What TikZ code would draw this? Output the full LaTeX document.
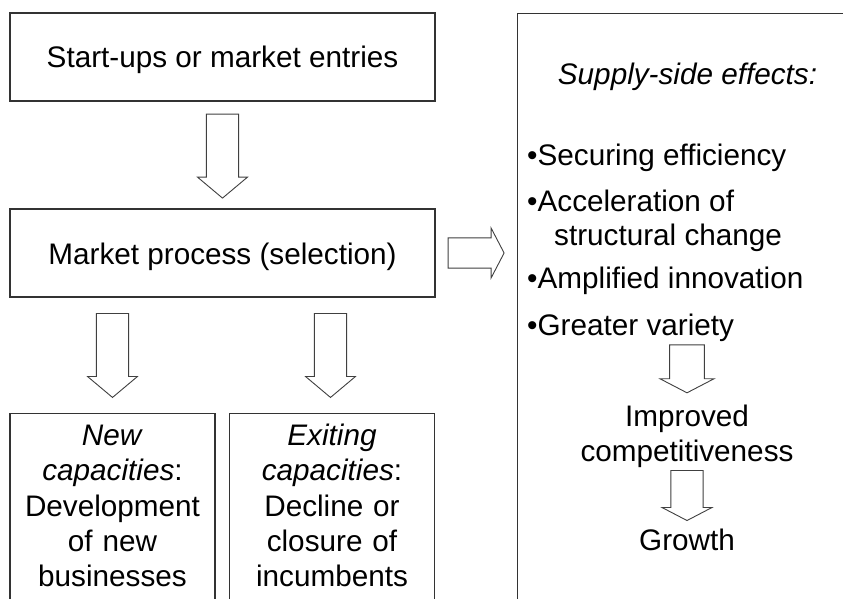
\documentclass[tikz,border=0pt]{standalone}
\usepackage{fontspec}
\setmainfont{Liberation Sans}
\usetikzlibrary{shapes.arrows,calc}
\begin{document}
\begin{tikzpicture}[x=1pt,y=-1pt,font=\fontsize{29.7}{35.3}\selectfont]
  \tikzset{box/.style={draw=black!80, line width=1.3pt, inner sep=0pt, align=center},
    flowbox/.style={box, minimum width=425pt, text height=55pt, text depth=33pt},
    capbox/.style={box, text width=205pt, text height=32pt, text depth=230pt, anchor=north},
    txt/.style={inner sep=0pt},
    fatarrow/.style={single arrow, draw=black!75, fill=white, line width=0.9pt, inner xsep=0pt, single arrow head indent=0pt, anchor=tail}}
  \useasboundingbox (0,0) rectangle (843,599);
  \clip (0,0) rectangle (843,599);
  \node[flowbox] (entries) at (222.5,57) {Start-ups or market entries};
  \node[flowbox] (market) at (222.5,253) {Market process (selection)};
  \node[capbox] (newcap) at (112.5,413) {\textit{New}\\\textit{capacities}:\\Development\\of new\\businesses};
  \node[capbox] (exitcap) at (332,413) {\textit{Exiting}\\\textit{capacities}:\\Decline or\\closure of\\incumbents};
  \node[box, minimum width=360pt, minimum height=640pt, anchor=north west] (effects) at (517,13) {};
  \node[txt, anchor=base] (efftitle) at (687.5,85) {\textit{Supply-side effects:}};
  \node[txt, anchor=base west] (efficiency) at (527,165) {•Securing efficiency};
  \node[txt, anchor=base west, align=left] (structural) at (527,245) {•Acceleration of\\[-2pt]\hspace*{27pt}structural change};
  \node[txt, anchor=base west] (innovation) at (527,288.3) {•Amplified innovation};
  \node[txt, anchor=base west] (variety) at (527,335) {•Greater variety};
  \node[txt, anchor=base, align=center] (competitive) at (687,461.7) {Improved\\competitiveness};
  \node[txt, anchor=base] (growth) at (687,550) {Growth};
  \node[fatarrow, rotate=-90, minimum height=84pt, minimum width=50pt, inner ysep=12.5pt, single arrow tip angle=100] (toselect) at ($(entries.south)+(0,12)$) {};
  \node[fatarrow, rotate=-90, minimum height=84pt, minimum width=50pt, inner ysep=12.5pt, single arrow tip angle=100] (tonew) at ($(newcap.north)+(0,-100)$) {};
  \node[fatarrow, rotate=-90, minimum height=84pt, minimum width=50pt, inner ysep=12.5pt, single arrow tip angle=100] (toexit) at ($(exitcap.north)+(-1.5,-100)$) {};
  \node[fatarrow, minimum height=56pt, minimum width=50pt, inner ysep=10.5pt, single arrow tip angle=125] (toeffects) at ($(market.east)+(12,0)$) {};
  \node[fatarrow, rotate=-90, minimum height=48pt, minimum width=54pt, inner ysep=12.5pt, single arrow tip angle=125] (tocompet) at ($(competitive.north |- variety.south)+(0,3)$) {};
  \node[fatarrow, rotate=-90, minimum height=50pt, minimum width=50pt, inner ysep=12.5pt, single arrow tip angle=125] (togrowth) at ($(competitive.south)+(0,2)$) {};
\end{tikzpicture}
\end{document}
